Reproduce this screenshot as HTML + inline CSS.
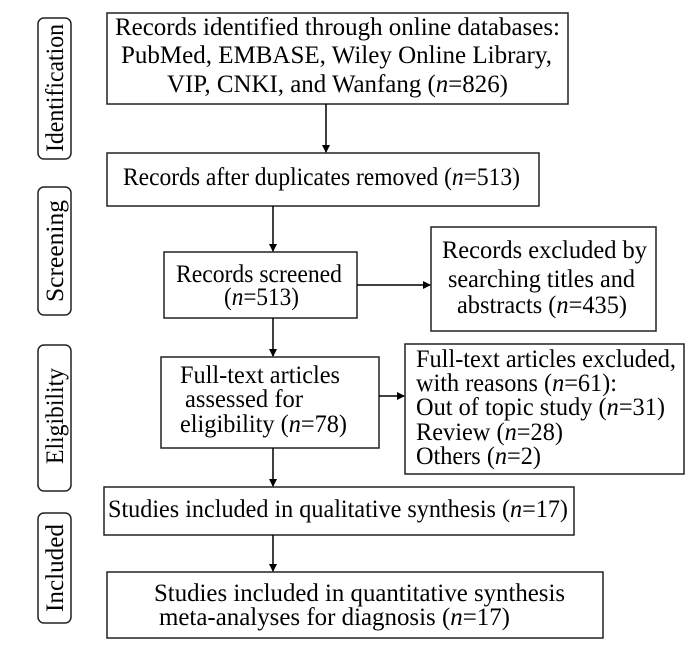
<!DOCTYPE html>
<html><head><meta charset="utf-8"><style>body{margin:0;background:#fff}svg{display:block}</style></head><body>
<svg width="700" height="651" viewBox="0 0 700 651" xmlns="http://www.w3.org/2000/svg" font-family="Liberation Serif, serif" font-size="25" fill="#000">
<defs><marker id="a" markerWidth="8" markerHeight="8" refX="7" refY="4" orient="auto" markerUnits="userSpaceOnUse"><path d="M0,0 L8,4 L0,8 Z" fill="#000"/></marker></defs>
<g fill="none" stroke="#222" stroke-width="1.5">
<rect x="107" y="13" width="461" height="91"/>
<rect x="107" y="153" width="432" height="53"/>
<rect x="164" y="252" width="193" height="66"/>
<rect x="431" y="227" width="225" height="104"/>
<rect x="161" y="357" width="218" height="91"/>
<rect x="405" y="344" width="279" height="130"/>
<rect x="104" y="487" width="470" height="48"/>
<rect x="107" y="572" width="496" height="66"/>
<rect x="38" y="18" width="33" height="141" rx="6"/>
<rect x="38" y="187" width="33" height="128" rx="6"/>
<rect x="38" y="345" width="33" height="146" rx="6"/>
<rect x="38" y="513" width="33" height="110" rx="6"/>
</g>
<g stroke="#000" stroke-width="1.5" marker-end="url(#a)">
<line x1="326" y1="104" x2="326" y2="152"/>
<line x1="273" y1="206" x2="273" y2="251"/>
<line x1="357" y1="285" x2="430" y2="285"/>
<line x1="273" y1="318" x2="273" y2="356"/>
<line x1="379" y1="396" x2="404" y2="396"/>
<line x1="273" y1="448" x2="273" y2="486"/>
<line x1="273" y1="535" x2="273" y2="571"/>
</g>
<text x="115" y="35" textLength="445" lengthAdjust="spacingAndGlyphs">Records identified through online databases:</text>
<text x="121" y="63" textLength="431" lengthAdjust="spacingAndGlyphs">PubMed, EMBASE, Wiley Online Library,</text>
<text x="167" y="92" textLength="341" lengthAdjust="spacingAndGlyphs">VIP, CNKI, and Wanfang (<tspan font-style="italic">n</tspan>=826)</text>
<text x="123" y="185" textLength="397" lengthAdjust="spacingAndGlyphs">Records after duplicates removed (<tspan font-style="italic">n</tspan>=513)</text>
<text x="176" y="282" textLength="166" lengthAdjust="spacingAndGlyphs">Records screened</text>
<text x="224" y="305" textLength="75" lengthAdjust="spacingAndGlyphs">(<tspan font-style="italic">n</tspan>=513)</text>
<text x="442" y="258" textLength="205" lengthAdjust="spacingAndGlyphs">Records excluded by</text>
<text x="448" y="287" textLength="187" lengthAdjust="spacingAndGlyphs">searching titles and</text>
<text x="457" y="313" textLength="170" lengthAdjust="spacingAndGlyphs">abstracts (<tspan font-style="italic">n</tspan>=435)</text>
<text x="180" y="383" textLength="160" lengthAdjust="spacingAndGlyphs">Full-text articles</text>
<text x="185" y="407" textLength="118" lengthAdjust="spacingAndGlyphs">assessed for</text>
<text x="180" y="432" textLength="167" lengthAdjust="spacingAndGlyphs">eligibility (<tspan font-style="italic">n</tspan>=78)</text>
<text x="416" y="367" textLength="260" lengthAdjust="spacingAndGlyphs">Full-text articles excluded,</text>
<text x="416" y="391" textLength="201" lengthAdjust="spacingAndGlyphs">with reasons (<tspan font-style="italic">n</tspan>=61):</text>
<text x="416" y="415" textLength="249" lengthAdjust="spacingAndGlyphs">Out of topic study (<tspan font-style="italic">n</tspan>=31)</text>
<text x="416" y="440" textLength="147" lengthAdjust="spacingAndGlyphs">Review (<tspan font-style="italic">n</tspan>=28)</text>
<text x="416" y="464" textLength="125" lengthAdjust="spacingAndGlyphs">Others (<tspan font-style="italic">n</tspan>=2)</text>
<text x="108" y="517" textLength="460" lengthAdjust="spacingAndGlyphs">Studies included in qualitative synthesis (<tspan font-style="italic">n</tspan>=17)</text>
<text x="154" y="601" textLength="411" lengthAdjust="spacingAndGlyphs">Studies included in quantitative synthesis</text>
<text x="159" y="625" textLength="351" lengthAdjust="spacingAndGlyphs">meta-analyses for diagnosis (<tspan font-style="italic">n</tspan>=17)</text>
<text transform="translate(63,152) rotate(-90)" textLength="128" lengthAdjust="spacingAndGlyphs">Identification</text>
<text transform="translate(63,302) rotate(-90)" textLength="102" lengthAdjust="spacingAndGlyphs">Screening</text>
<text transform="translate(63,464) rotate(-90)" textLength="96" lengthAdjust="spacingAndGlyphs">Eligibility</text>
<text transform="translate(63,612) rotate(-90)" textLength="88" lengthAdjust="spacingAndGlyphs">Included</text>
</svg>
</body></html>
